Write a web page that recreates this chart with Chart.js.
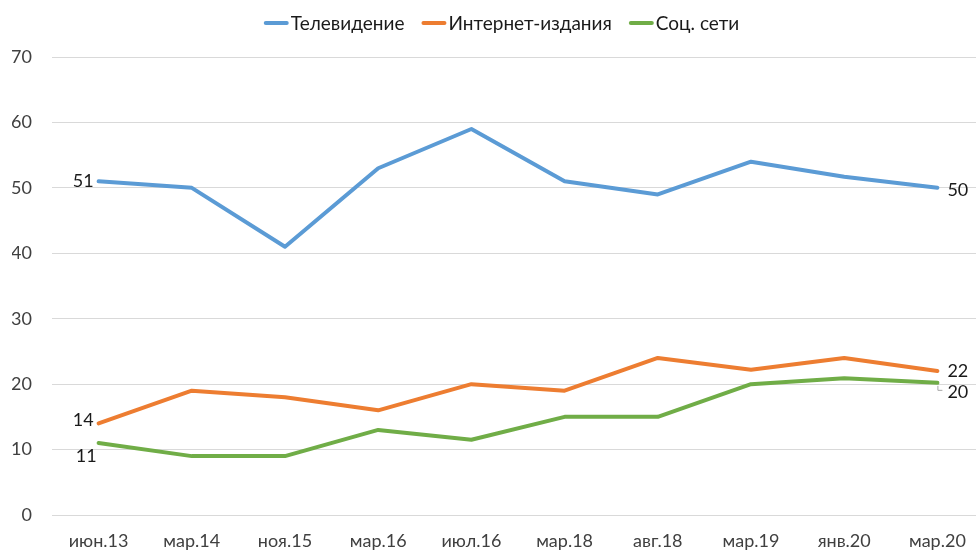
<!DOCTYPE html>
<html><head><meta charset="utf-8">
<script src="https://cdn.jsdelivr.net/npm/chart.js@4/dist/chart.umd.min.js"></script>
<style>
html,body{margin:0;padding:0;background:#fff;overflow:hidden;}
#wrap{position:absolute;left:0;top:0;width:992px;height:552px;}
</style></head><body>
<div id="wrap"><canvas id="c"></canvas></div>
<script>
const categories = ['июн.13','мар.14','ноя.15','мар.16','июл.16','мар.18','авг.18','мар.19','янв.20','мар.20'];
const tvValues = [51, 50, 41, 53, 59, 51, 49, 54, 51.7, 50];
const webValues = [14, 19, 18, 16, 20, 19, 24, 22.2, 24, 22];
const socialValues = [11, 9, 9, 13, 11.5, 15, 15, 20, 20.9, 20.2];
const tvLabels = ['51','50'];
const webLabels = ['14','22'];
const socialLabels = ['11','20'];
const yTicks = [0,10,20,30,40,50,60,70];

const FONT = 'Lato, "Open Sans", sans-serif';

const customLegend = {
  id: 'customLegend',
  afterDraw(chart) {
    const ctx = chart.ctx;
    ctx.save();
    ctx.font = '19px ' + FONT;
    ctx.textBaseline = 'middle';
    ctx.textAlign = 'left';
    const lineW = 23, gapLT = 3, gapItems = 18, y = 23;
    const items = chart.data.datasets.map(d => ({text: d.label, color: d.borderColor, w: lineW + gapLT + ctx.measureText(d.label).width}));
    const total = items.reduce((s, it) => s + it.w, 0) + gapItems * (items.length - 1);
    let x = 502 - total / 2;
    items.forEach(it => {
      ctx.strokeStyle = it.color;
      ctx.lineWidth = 4;
      ctx.lineCap = 'round';
      ctx.beginPath();
      ctx.moveTo(x + 1, y);
      ctx.lineTo(x + lineW - 1, y);
      ctx.stroke();
      ctx.fillStyle = '#1a1a1a';
      ctx.fillText(it.text, x + lineW + gapLT, y + 1);
      x += it.w + gapItems;
    });
    ctx.restore();
  }
};

const endLabels = {
  id: 'endLabels',
  afterDatasetsDraw(chart) {
    const ctx = chart.ctx;
    ctx.save();
    ctx.font = '18px ' + FONT;
    ctx.fillStyle = '#1a1a1a';
    const cfg = [
      {ds:0, labels: tvLabels, first:{dx:-5, dy:0, align:'right'}, last:{dx:10, dy:2, align:'left'}},
      {ds:1, labels: webLabels, first:{dx:-5, dy:-3, align:'right'}, last:{dx:10, dy:0, align:'left'}},
      {ds:2, labels: socialLabels, first:{dx:-2, dy:13, align:'right'}, last:{dx:10, dy:9, align:'left'}}
    ];
    cfg.forEach(c => {
      const meta = chart.getDatasetMeta(c.ds);
      const p0 = meta.data[0], pn = meta.data[meta.data.length-1];
      ctx.textBaseline = 'middle';
      ctx.textAlign = c.first.align;
      ctx.fillText(c.labels[0], p0.x + c.first.dx, p0.y + c.first.dy);
      ctx.textAlign = c.last.align;
      ctx.fillText(c.labels[1], pn.x + c.last.dx, pn.y + c.last.dy);
    });
    const m = chart.getDatasetMeta(2);
    const pn = m.data[m.data.length-1];
    ctx.strokeStyle = '#a6a6a6';
    ctx.lineWidth = 1;
    ctx.beginPath();
    ctx.moveTo(pn.x + 0.5, pn.y + 3);
    ctx.lineTo(pn.x + 0.5, pn.y + 7.5);
    ctx.lineTo(pn.x + 5, pn.y + 7.5);
    ctx.stroke();
    ctx.restore();
  }
};

new Chart(document.getElementById('c'), {
  type: 'line',
  data: {
    labels: categories,
    datasets: [
      {label:'Телевидение', data: tvValues, borderColor:'#5B9BD5', backgroundColor:'#5B9BD5', borderWidth: 4},
      {label:'Интернет-издания', data: webValues, borderColor:'#ED7D31', backgroundColor:'#ED7D31', borderWidth: 4},
      {label:'Соц. сети', data: socialValues, borderColor:'#70AD47', backgroundColor:'#70AD47', borderWidth: 4}
    ]
  },
  options: {
    responsive: true,
    maintainAspectRatio: false,
    animation: false,
    elements: {
      line: {tension: 0, borderCapStyle:'round', borderJoinStyle:'round'},
      point: {radius: 0, hoverRadius: 0}
    },
    layout: {padding: {top: 57, right: 8, bottom: 0, left: 12}},
    plugins: {
      legend: {display: false},
      tooltip: {enabled: false}
    },
    scales: {
      x: {
        offset: true,
        grid: {display: false, drawTicks: false, tickLength: 0},
        border: {display: false},
        afterFit(axis){ axis.height = 37; },
        ticks: {font: {family: FONT, size: 18}, color: '#404040', padding: 15, maxRotation: 0, minRotation: 0, autoSkip: false}
      },
      y: {
        min: 0, max: 70,
        afterBuildTicks(axis){ axis.ticks = yTicks.map(v => ({value: v})); },
        afterFit(axis){ axis.width = 40; },
        grid: {color: '#d9d9d9', lineWidth: 1, drawTicks: false, tickLength: 0},
        border: {display: false},
        ticks: {font: {family: FONT, size: 18}, color: '#404040', padding: 20}
      }
    }
  },
  plugins: [endLabels, customLegend]
});
</script>
</body></html>
